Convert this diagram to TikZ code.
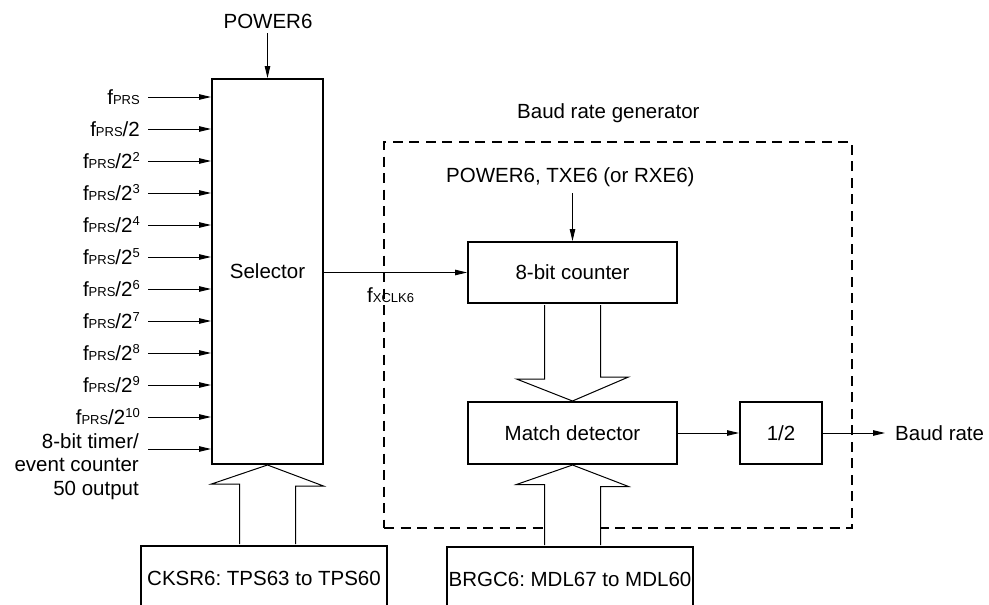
\documentclass[tikz,border=0pt]{standalone}
\usepackage{fontspec}
\setmainfont{Liberation Sans}
\usetikzlibrary{arrows.meta,calc}
\newcommand\smtxt[1]{{\fontsize{13}{13}\selectfont #1}}
\newcommand\fprs{f\smtxt{PRS}}
\newcommand\upexp[1]{\raisebox{7pt}{\smtxt{#1}}}
\frenchspacing
\begin{document}
\begin{tikzpicture}[x=1pt,y=-1pt,
  font=\fontsize{20.5}{23.5}\selectfont,
  blk/.style={draw, line width=2pt, inner sep=0pt},
  arr/.style={line width=1pt, -{Triangle[length=12pt,width=5.5pt]}},
  hollow/.style={draw, fill=white, line width=1pt, line join=miter},
  lbl/.style={inner sep=0pt},
  grp/.style={draw, line width=2.3pt, dash pattern=on 10pt off 6.5pt, inner sep=0pt}]
\useasboundingbox (0,0) rectangle (989,605);
\clip (0,0) rectangle (989,605);

% dashed group
\node[grp, minimum width=468pt, minimum height=386pt] (brg) at (618,335) {};
\node[lbl, anchor=base west] (brglbl) at (517,118) {Baud rate generator};

% blocks
\node[blk, minimum width=111pt, minimum height=385pt] (sel) at (267.5,271.5) {Selector};
\node[blk, minimum width=209pt, minimum height=61pt] (cnt) at (572.5,272.5) {8-bit counter};
\node[blk, minimum width=209pt, minimum height=62pt] (md) at (572.5,433) {Match detector};
\node[blk, minimum width=82pt, minimum height=62pt] (half) at (781,433) {1/2};
\node[blk, minimum width=246pt, minimum height=64pt] (cksr) at (264,578) {CKSR6: TPS63 to TPS60};
\node[blk, minimum width=246pt, minimum height=64pt] (brgc) at (570,579) {BRGC6: MDL67 to MDL60};

% top control signals
\node[lbl, anchor=base] (pw) at (268,28) {POWER6};
\coordinate (pwa) at (267.5,33);
\draw[arr] (pwa) -- (sel.north);
\node[lbl, anchor=base west] (pw2) at (446,182) {POWER6, TXE6 (or RXE6)};
\coordinate (pwb) at (572.5,193);
\draw[arr] (pwb) -- (cnt.north);

% clock inputs
\foreach \k/\t in {0/{\fprs},1/{\fprs/2},2/{\fprs/2\upexp{2}},3/{\fprs/2\upexp{3}},
  4/{\fprs/2\upexp{4}},5/{\fprs/2\upexp{5}},6/{\fprs/2\upexp{6}},7/{\fprs/2\upexp{7}},
  8/{\fprs/2\upexp{8}},9/{\fprs/2\upexp{9}},10/{\fprs/2\upexp{10}}} {
  \coordinate (a\k) at (148,97+32*\k);
  \node[lbl, anchor=base east] (in\k) at (140,104.5+32*\k) {\t};
  \draw[arr] (a\k) -- (a\k -| sel.west);
}
\coordinate (a11) at (148,449);
\node[lbl, anchor=north east, align=right] (in11) at (139,433) {8-bit timer/\\event counter\\50 output};
\draw[arr] (a11) -- (a11 -| sel.west);

% selector output
\draw[arr] (sel.east |- cnt.west) -- (cnt.west);
\node[lbl, anchor=base west] (fx) at (367,302) {f\smtxt{XCLK6}};

% hollow arrows
\draw[hollow] ($(cksr.north -| sel.south)+(-28,-1)$) -- ++(0,-60) -- ++(-28,0) -- (sel.south) -- ++(56,21) -- ++(-28,0) -- ($(cksr.north -| sel.south)+(28,-1)$);
\draw[hollow] ($(cnt.south)+(-28,1)$) -- ++(0,74) -- ++(-28,0) -- (md.north) -- ++(56,-24) -- ++(-28,0) -- ($(cnt.south)+(28,1)$);
\draw[hollow] ($(brgc.north -| md.south)+(-28,-1)$) -- ++(0,-60.5) -- ++(-28,0) -- (md.south) -- ++(56,21.5) -- ++(-28,0) -- ($(brgc.north -| md.south)+(28,-1)$);

% outputs
\draw[arr] (md.east) -- (half.west);
\node[lbl, anchor=west] (baud) at (895,433) {Baud rate};
\draw[arr] (half.east) -- ([xshift=-10pt]baud.west);
\end{tikzpicture}
\end{document}
